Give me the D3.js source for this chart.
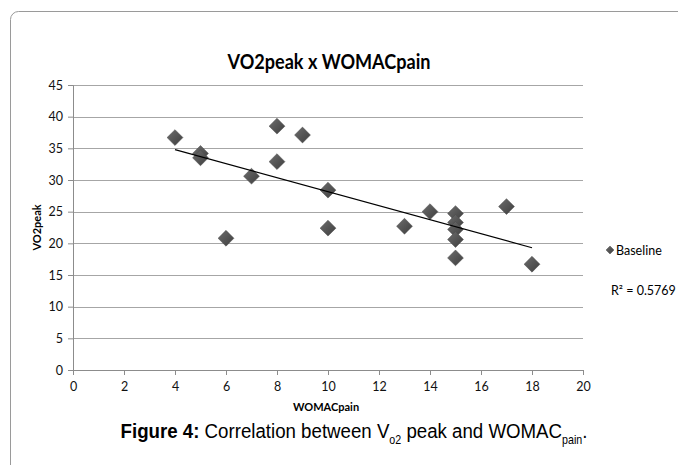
<!DOCTYPE html>
<html>
<head>
<meta charset="utf-8">
<script src="https://cdn.jsdelivr.net/npm/d3@7"></script>
<style>
  body { margin: 0; background: #fff; }
  svg { display: block; }
</style>
</head>
<body>
<svg id="chart" width="678" height="465"></svg>
<script>
// WOMACpain (x) vs VO2peak (y), baseline measurements
const womacPain = [4, 5, 5, 6, 7, 8, 8, 9, 10, 10, 13, 14, 15, 15, 15, 15, 15, 17, 18];
const vo2Peak = [36.7, 34.2, 33.5, 20.8, 30.6, 38.5, 32.9, 37.1, 28.4, 22.4, 22.7, 25.0, 24.7, 23.3, 22.2, 20.6, 17.7, 25.8, 16.7];
const xTicks = [0, 2, 4, 6, 8, 10, 12, 14, 16, 18, 20];
const yTicks = [0, 5, 10, 15, 20, 25, 30, 35, 40, 45];
const seriesName = "Baseline";
const rSquaredLabel = "R\u00b2 = 0.5769";

const svg = d3.select("#chart");
const margin = {left: 73, right: 95, top: 85, bottom: 95};
const width = 678, height = 465;

const x = d3.scaleLinear().domain([0, 20]).range([margin.left, width - margin.right]);
const y = d3.scaleLinear().domain([0, 45]).range([height - margin.bottom, margin.top]);

// outer frame, cut off at right and bottom
svg.append("rect")
    .attr("x", 10.5).attr("y", 11.5)
    .attr("width", 700).attr("height", 500)
    .attr("rx", 8)
    .style("fill", "none")
    .style("stroke", "#9a9a9a")
    .style("stroke-width", 1);

// diamond shading
const defs = svg.append("defs");
const grad = defs.append("linearGradient")
    .attr("id", "dia").attr("x1", "0").attr("y1", "0").attr("x2", "1").attr("y2", "1");
grad.append("stop").attr("offset", "0%").attr("stop-color", "#6e6e6e");
grad.append("stop").attr("offset", "50%").attr("stop-color", "#555");
grad.append("stop").attr("offset", "100%").attr("stop-color", "#3e3e3e");

const tickFont = "Lato, 'Open Sans', sans-serif";

// title
svg.append("text")
    .attr("x", 329).attr("y", 69)
    .attr("text-anchor", "middle")
    .attr("textLength", 203)
    .attr("lengthAdjust", "spacingAndGlyphs")
    .style("font-family", tickFont)
    .style("font-weight", "bold")
    .style("font-size", "21px")
    .style("fill", "#000")
    .text("VO2peak x WOMACpain");

// gridlines
svg.append("g")
    .selectAll("line")
    .data(yTicks.filter(d => d > 0))
    .join("line")
    .attr("x1", x(0)).attr("x2", x(20))
    .attr("y1", d => Math.round(y(d)) + 0.5)
    .attr("y2", d => Math.round(y(d)) + 0.5)
    .style("stroke", "#a6a6a6")
    .style("stroke-width", 1);

// axes
const yAxis = svg.append("g")
    .attr("transform", `translate(${x(0)},0)`)
    .call(d3.axisLeft(y).tickValues(yTicks).tickSize(5).tickPadding(5));
const xAxis = svg.append("g")
    .attr("transform", `translate(0,${y(0)})`)
    .call(d3.axisBottom(x).tickValues(xTicks).tickSize(5).tickPadding(7));

[xAxis, yAxis].forEach(ax => {
    ax.select(".domain").style("stroke", "#8c8c8c");
    ax.selectAll(".tick line").style("stroke", "#8c8c8c");
    ax.selectAll(".tick text")
        .style("font-family", tickFont)
        .style("font-size", "12.5px")
        .style("fill", "#111");
});

// axis titles
svg.append("text")
    .attr("x", x(10) - 2).attr("y", 411)
    .attr("text-anchor", "middle")
    .style("font-family", tickFont)
    .style("font-weight", "bold")
    .style("font-size", "11px")
    .text("WOMACpain");

svg.append("text")
    .attr("transform", `translate(41,${y(22.5)}) rotate(-90)`)
    .attr("text-anchor", "middle")
    .style("font-family", tickFont)
    .style("font-weight", "bold")
    .style("font-size", "11px")
    .text("VO2peak");

// points
const points = womacPain.map((d, i) => ({x: d, y: vo2Peak[i]}));
const diamond = d3.symbol().type(d3.symbolDiamond2).size(160);

svg.append("g")
    .selectAll("path")
    .data(points)
    .join("path")
    .attr("transform", d => `translate(${x(d.x)},${y(d.y)})`)
    .attr("d", diamond)
    .style("fill", "url(#dia)")
    .style("stroke", "#4a4a4a")
    .style("stroke-width", 0.5);

// linear trendline (least squares over the points)
const mx = d3.mean(points, d => d.x), my = d3.mean(points, d => d.y);
const slope = d3.sum(points, d => (d.x - mx) * (d.y - my)) / d3.sum(points, d => (d.x - mx) ** 2);
const intercept = my - slope * mx;
const xExt = d3.extent(womacPain);
svg.append("line")
    .attr("x1", x(xExt[0])).attr("y1", y(intercept + slope * xExt[0]))
    .attr("x2", x(xExt[1])).attr("y2", y(intercept + slope * xExt[1]))
    .style("stroke", "#000")
    .style("stroke-width", 1.2);

// legend
const leg = svg.append("g").attr("transform", "translate(610,250)");
leg.append("path")
    .attr("d", d3.symbol().type(d3.symbolDiamond2).size(40))
    .style("fill", "url(#dia)")
    .style("stroke", "#4a4a4a")
    .style("stroke-width", 0.5);
leg.append("text")
    .attr("x", 6).attr("y", 4.5)
    .style("font-family", tickFont)
    .style("font-size", "12.5px")
    .text(seriesName);

svg.append("text")
    .attr("x", 611).attr("y", 295)
    .style("font-family", tickFont)
    .style("font-size", "12.5px")
    .text(rSquaredLabel);

// caption (narrow face imitated by horizontal squeeze)
const cap = svg.append("text")
    .attr("transform", "translate(354,438) scale(0.89,1)")
    .attr("text-anchor", "middle")
    .style("font-family", "'Liberation Sans', Arial, sans-serif")
    .style("font-size", "21px")
    .style("fill", "#000");
cap.append("tspan").style("font-weight", "bold").text("Figure 4:");
cap.append("tspan").text(" Correlation between V");
cap.append("tspan").attr("dy", 6).style("font-size", "12px").text("o2");
cap.append("tspan").attr("dy", -6).text(" peak and WOMAC");
cap.append("tspan").attr("dy", 6).style("font-size", "12px").text("pain");
cap.append("tspan").attr("dy", -6).text(".");
</script>
</body>
</html>
